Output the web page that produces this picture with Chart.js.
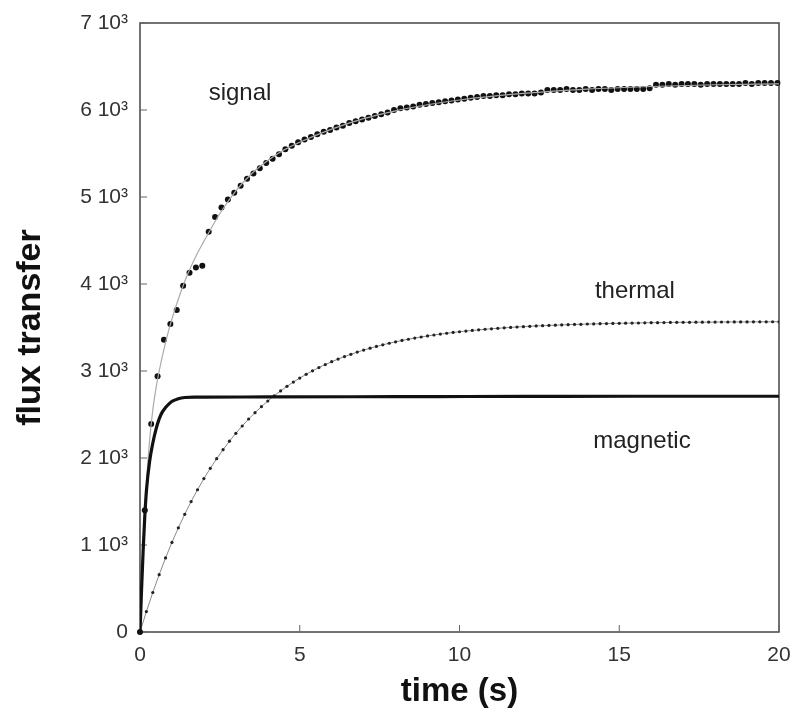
<!DOCTYPE html>
<html>
<head>
<meta charset="utf-8">
<script src="https://cdn.jsdelivr.net/npm/chart.js"></script>
<style>
	html, body { margin: 0; padding: 0; background: #fff; }
</style>
</head>
<body>
<canvas id="flux-chart" width="794" height="717"></canvas>
<script>
// measured signal (dots)
const signalTime = [0, 0.15, 0.35, 0.55, 0.75, 0.95, 1.15, 1.35, 1.55, 1.75, 1.95,
	2.15, 2.35, 2.55, 2.75, 2.95, 3.15, 3.35, 3.55, 3.75, 3.95,
	4.15, 4.35, 4.55, 4.75, 4.95, 5.15, 5.35, 5.55, 5.75, 5.95,
	6.15, 6.35, 6.55, 6.75, 6.95, 7.15, 7.35, 7.55, 7.75, 7.95,
	8.15, 8.35, 8.55, 8.75, 8.95, 9.15, 9.35, 9.55, 9.75, 9.95,
	10.15, 10.35, 10.55, 10.75, 10.95, 11.15, 11.35, 11.55, 11.75, 11.95,
	12.15, 12.35, 12.55, 12.75, 12.95, 13.15, 13.35, 13.55, 13.75, 13.95,
	14.15, 14.35, 14.55, 14.75, 14.95, 15.15, 15.35, 15.55, 15.75, 15.95,
	16.15, 16.35, 16.55, 16.75, 16.95, 17.15, 17.35, 17.55, 17.75, 17.95,
	18.15, 18.35, 18.55, 18.75, 18.95, 19.15, 19.35, 19.55, 19.75, 19.95];
const signalValues = [0, 1400, 2390, 2940, 3360, 3540, 3700, 3980, 4130, 4190, 4210,
	4600, 4770, 4880, 4970, 5050, 5130, 5210, 5270, 5330, 5390,
	5440, 5490, 5550, 5590, 5630, 5660, 5690, 5720, 5750, 5770,
	5800, 5820, 5850, 5870, 5890, 5910, 5930, 5950, 5970, 6000,
	6020, 6030, 6040, 6060, 6070, 6080, 6090, 6100, 6110, 6120,
	6130, 6140, 6150, 6160, 6160, 6170, 6170, 6180, 6180, 6190,
	6190, 6190, 6200, 6230, 6230, 6230, 6240, 6230, 6230, 6240,
	6230, 6240, 6240, 6230, 6240, 6240, 6240, 6240, 6240, 6250,
	6290, 6290, 6300, 6290, 6300, 6300, 6300, 6290, 6300, 6300,
	6300, 6300, 6300, 6300, 6310, 6300, 6310, 6310, 6310, 6310];

// fitted curve through the signal (thin grey line)
const fitTime = [0, 0.1, 0.2, 0.3, 0.4, 0.5, 0.6, 0.8, 1.0, 1.25, 1.5, 1.75, 2.0, 2.5, 3, 3.5, 4, 4.5, 5, 6, 7, 8, 9, 10, 12, 14, 16, 18, 20];
const fitValues = [0, 950, 1700, 2200, 2550, 2800, 3000, 3330, 3600, 3880, 4120, 4320, 4490, 4810, 5070, 5270, 5420, 5540, 5630, 5780, 5900, 5990, 6060, 6115, 6190, 6240, 6270, 6290, 6300];

// thermal component (dotted)
const thermalTime = [0, 0.2, 0.4, 0.6, 0.8, 1, 1.2, 1.4, 1.6, 1.8, 2, 2.2, 2.4, 2.6, 2.8, 3, 3.2, 3.4, 3.6, 3.8,
	4, 4.2, 4.4, 4.6, 4.8, 5, 5.2, 5.4, 5.6, 5.8, 6, 6.2, 6.4, 6.6, 6.8, 7, 7.2, 7.4, 7.6, 7.8,
	8, 8.2, 8.4, 8.6, 8.8, 9, 9.2, 9.4, 9.6, 9.8, 10, 10.2, 10.4, 10.6, 10.8, 11, 11.2, 11.4, 11.6, 11.8,
	12, 12.2, 12.4, 12.6, 12.8, 13, 13.2, 13.4, 13.6, 13.8, 14, 14.2, 14.4, 14.6, 14.8, 15, 15.2, 15.4, 15.6, 15.8,
	16, 16.2, 16.4, 16.6, 16.8, 17, 17.2, 17.4, 17.6, 17.8, 18, 18.2, 18.4, 18.6, 18.8, 19, 19.2, 19.4, 19.6, 19.8, 20];
const thermalValues = [0, 235, 454, 659, 851, 1030, 1197, 1353, 1499, 1635, 1763, 1881, 1992, 2096, 2193, 2284, 2368, 2448, 2521, 2590,
	2655, 2715, 2771, 2824, 2873, 2919, 2962, 3002, 3039, 3074, 3107, 3137, 3166, 3192, 3217, 3240, 3262, 3282, 3301, 3319,
	3335, 3351, 3365, 3379, 3391, 3403, 3414, 3424, 3434, 3443, 3451, 3459, 3466, 3473, 3480, 3485, 3491, 3496, 3501, 3506,
	3510, 3514, 3518, 3521, 3524, 3527, 3530, 3533, 3535, 3537, 3540, 3541, 3544, 3545, 3547, 3548, 3550, 3551, 3552, 3554,
	3555, 3556, 3557, 3558, 3559, 3559, 3560, 3561, 3561, 3562, 3562, 3563, 3563, 3564, 3564, 3564, 3565, 3565, 3565, 3566, 3566];

// magnetic component (thick line)
const magneticTime = [0, 0.05, 0.1, 0.15, 0.2, 0.3, 0.4, 0.5, 0.6, 0.7, 0.8, 0.9, 1.0, 1.2, 1.4, 1.7, 2, 4, 8, 12, 16, 20];
const magneticValues = [0, 500, 950, 1330, 1620, 1960, 2170, 2330, 2450, 2530, 2580, 2620, 2650, 2680, 2695, 2700, 2700, 2702, 2705, 2708, 2710, 2710];

// text labels inside the plot: [text, time, value]
const curveLabels = [
	['signal', 3.13, 6115],
	['thermal', 15.49, 3840],
	['magnetic', 15.71, 2115]
];

const xTicks = [0, 5, 10, 15, 20];
const yTicks = [0, 1000, 2000, 3000, 4000, 5000, 6000, 7000];

const FONT = '"Liberation Sans", Arial, Helvetica, sans-serif';

function toPoints(xs, ys) {
	return xs.map((x, i) => ({ x: x, y: ys[i] }));
}

// frame, inward tick marks and curve labels
const frameAndLabels = {
	id: 'frameAndLabels',
	beforeDatasetsDraw(chart) {
		const { ctx, chartArea: a, scales: { x, y } } = chart;
		ctx.save();
		ctx.strokeStyle = '#444';
		ctx.lineWidth = 1.5;
		ctx.strokeRect(a.left, a.top, a.right - a.left, a.bottom - a.top);
		ctx.lineWidth = 1;
		ctx.strokeStyle = '#666';
		ctx.beginPath();
		xTicks.forEach(v => {
			const px = x.getPixelForValue(v);
			ctx.moveTo(px, a.bottom);
			ctx.lineTo(px, a.bottom - 7);
		});
		yTicks.forEach(v => {
			const py = y.getPixelForValue(v);
			ctx.moveTo(a.left, py);
			ctx.lineTo(a.left + 7, py);
		});
		ctx.stroke();
		ctx.restore();
	},
	afterDatasetsDraw(chart) {
		const { ctx, scales: { x, y } } = chart;
		ctx.save();
		ctx.fillStyle = '#222';
		ctx.font = '24px ' + FONT;
		ctx.textAlign = 'center';
		ctx.textBaseline = 'alphabetic';
		curveLabels.forEach(([text, t, v]) => {
			ctx.fillText(text, x.getPixelForValue(t), y.getPixelForValue(v));
		});
		ctx.restore();
	}
};

new Chart(document.getElementById('flux-chart'), {
	type: 'scatter',
	data: {
		datasets: [
			{
				label: 'magnetic',
				data: toPoints(magneticTime, magneticValues),
				showLine: true,
				borderColor: '#111',
				borderWidth: 3.2,
				pointRadius: 0,
				cubicInterpolationMode: 'monotone'
			},
			{
				label: 'thermal',
				data: toPoints(thermalTime, thermalValues),
				showLine: true,
				borderColor: '#888',
				borderWidth: 1,
				pointRadius: 1.6,
				pointBackgroundColor: '#222',
				pointBorderWidth: 0
			},
			{
				label: 'fit',
				data: toPoints(fitTime, fitValues),
				showLine: true,
				borderColor: '#aaa',
				borderWidth: 1.2,
				pointRadius: 0,
				cubicInterpolationMode: 'monotone'
			},
			{
				label: 'signal',
				data: toPoints(signalTime, signalValues),
				showLine: false,
				pointRadius: 3,
				pointBackgroundColor: '#111',
				pointBorderWidth: 0,
				clip: false
			}
		]
	},
	options: {
		responsive: false,
		animation: false,
		layout: { padding: { top: 23, right: 15, left: 0, bottom: 0 } },
		plugins: {
			legend: { display: false },
			tooltip: { enabled: false }
		},
		scales: {
			x: {
				type: 'linear',
				min: 0,
				max: 20,
				afterFit: s => { s.height = 85; s.paddingLeft = 0; s.paddingRight = 0; },
				afterBuildTicks: s => { s.ticks = xTicks.map(v => ({ value: v })); },
				grid: { display: false, drawTicks: false },
				border: { display: false },
				ticks: {
					padding: 11,
					color: '#333',
					font: { family: FONT, size: 21 }
				},
				title: {
					display: true,
					text: 'time (s)',
					color: '#111',
					padding: { top: 0, bottom: 5 },
					font: { family: FONT, size: 33, weight: 'bold' }
				}
			},
			y: {
				type: 'linear',
				min: 0,
				max: 7000,
				afterFit: s => { s.width = 140; s.paddingTop = 0; s.paddingBottom = 0; },
				afterBuildTicks: s => { s.ticks = yTicks.map(v => ({ value: v })); },
				grid: { display: false, drawTicks: false },
				border: { display: false },
				ticks: {
					padding: 12,
					color: '#333',
					font: { family: FONT, size: 21 },
					callback: v => v === 0 ? '0' : (v / 1000) + ' 10\u00b3'
				},
				title: {
					display: true,
					text: 'flux transfer',
					color: '#111',
					padding: { top: 10, bottom: 0 },
					font: { family: FONT, size: 34, weight: 'bold' }
				}
			}
		}
	},
	plugins: [frameAndLabels]
});
</script>
</body>
</html>
